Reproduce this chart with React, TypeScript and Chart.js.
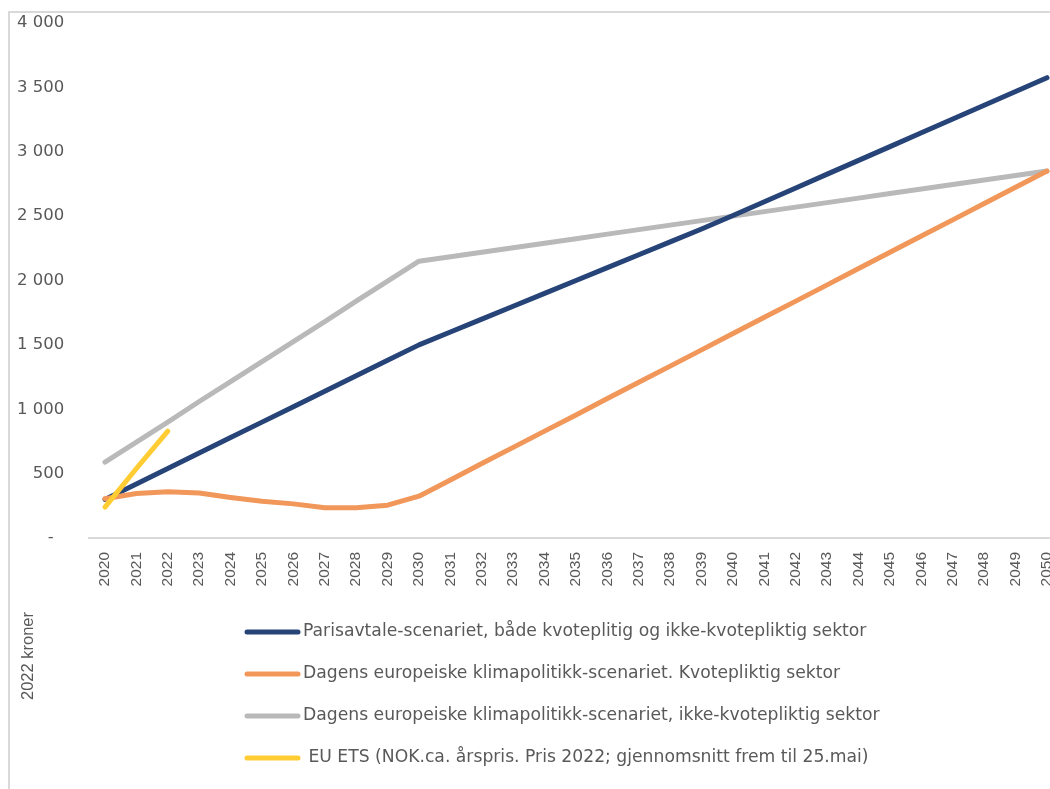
import React, { useEffect, useRef } from "react";
import { Chart, registerables } from "chart.js";

Chart.register(...registerables);

const years = [
  "2020", "2021", "2022", "2023", "2024", "2025", "2026", "2027", "2028", "2029", "2030",
  "2031", "2032", "2033", "2034", "2035", "2036", "2037", "2038", "2039", "2040",
  "2041", "2042", "2043", "2044", "2045", "2046", "2047", "2048", "2049", "2050",
];

const parisScenario = [
  300, 420, 540, 660, 780, 900, 1020, 1140, 1260, 1380, 1500,
  1600, 1700, 1800, 1900, 2000, 2100, 2200, 2300, 2400, 2505,
  2612, 2719, 2826, 2933, 3040, 3147, 3254, 3361, 3468, 3575,
];

const euroQuotaSector = [
  305, 345, 360, 350, 315, 285, 265, 235, 235, 255, 325,
  451, 578, 704, 830, 956, 1083, 1209, 1335, 1461, 1588,
  1714, 1840, 1966, 2093, 2219, 2345, 2471, 2598, 2724, 2850,
];

const euroNonQuotaSector = [
  590, 745, 900, 1060, 1215, 1370, 1525, 1680, 1840, 1995, 2150,
  2185, 2220, 2255, 2290, 2325, 2360, 2395, 2430, 2465, 2500,
  2535, 2570, 2605, 2640, 2675, 2710, 2745, 2780, 2815, 2850,
];

const euEts = [240, 540, 830];

const seriesLabels = [
  "Parisavtale-scenariet, både kvoteplitig og ikke-kvotepliktig sektor",
  "Dagens europeiske klimapolitikk-scenariet. Kvotepliktig sektor",
  "Dagens europeiske klimapolitikk-scenariet, ikke-kvotepliktig sektor",
  " EU ETS (NOK.ca. årspris. Pris 2022; gjennomsnitt frem til 25.mai)",
];

const yTickLabels = ["-  ", "500", "1 000", "1 500", "2 000", "2 500", "3 000", "3 500", "4 000"];
const yAxisTitle = "2022 kroner";

const seriesColors = ["#264478", "#F1975A", "#B9B9B9", "#FFCD33"];
const textColor = "#595959";

const legendPlugin = {
  id: "customLegendAndTitle",
  afterDraw(chart: any) {
    const ctx = chart.ctx as CanvasRenderingContext2D;
    ctx.save();
    chart.data.datasets.forEach((ds: any, i: number) => {
      const y = 632 + i * 42;
      ctx.strokeStyle = ds.borderColor;
      ctx.lineWidth = 5;
      ctx.lineCap = "round";
      ctx.beginPath();
      ctx.moveTo(247, y);
      ctx.lineTo(298, y);
      ctx.stroke();
      ctx.fillStyle = textColor;
      ctx.font = "17.2px 'DejaVu Sans'";
      ctx.textBaseline = "middle";
      ctx.textAlign = "left";
      ctx.fillText(ds.label, 303, y);
    });
    ctx.translate(28, 656);
    ctx.rotate(-Math.PI / 2);
    ctx.textAlign = "center";
    ctx.textBaseline = "middle";
    ctx.font = "16.5px 'Liberation Sans'";
    ctx.fillStyle = textColor;
    ctx.fillText(yAxisTitle, 0, 0);
    ctx.restore();
  },
};

export default function App() {
  const canvasRef = useRef<HTMLCanvasElement | null>(null);

  useEffect(() => {
    if (!canvasRef.current) return;
    const seriesData = [parisScenario, euroQuotaSector, euroNonQuotaSector, euEts];
    const orders = [3, 2, 4, 0];
    const chart = new Chart(canvasRef.current, {
      type: "line",
      data: {
        labels: years,
        datasets: seriesData.map((d, i) => ({
          label: seriesLabels[i],
          data: d,
          borderColor: seriesColors[i],
          backgroundColor: seriesColors[i],
          borderWidth: 5,
          pointRadius: 0,
          tension: 0,
          borderCapStyle: "round" as const,
          borderJoinStyle: "round" as const,
          order: orders[i],
        })),
      },
      options: {
        responsive: false,
        animation: false,
        devicePixelRatio: 1,
        layout: { padding: { left: 0, top: 23, right: 7.3, bottom: 0 } },
        plugins: {
          legend: { display: false },
          tooltip: { enabled: false },
          title: { display: false },
        },
        scales: {
          x: {
            offset: true,
            grid: { display: false, drawTicks: false },
            border: { display: true, color: "#D9D9D9", width: 2 },
            ticks: {
              color: textColor,
              font: { family: "'Liberation Sans'", size: 15.5 },
              minRotation: 90,
              maxRotation: 90,
              autoSkip: false,
              padding: 14,
            },
            afterFit: (scale: any) => {
              scale.height = 251;
              scale.paddingLeft = 0;
              scale.paddingRight = 0;
            },
          },
          y: {
            min: 0,
            max: 4000,
            grid: { display: false, drawTicks: false },
            border: { display: false },
            ticks: {
              stepSize: 500,
              color: textColor,
              font: { family: "'DejaVu Sans'", size: 16.5 },
              padding: 25,
              callback: (_v: any, index: number) => yTickLabels[index],
            },
            afterFit: (scale: any) => {
              scale.width = 89.3;
              scale.paddingTop = 0;
              scale.paddingBottom = 0;
            },
          },
        },
      },
      plugins: [legendPlugin],
    });
    return () => chart.destroy();
  }, []);

  return (
    <div
      style={{
        position: "fixed",
        left: 0,
        top: 0,
        width: 1050,
        height: 789,
        overflow: "hidden",
        background: "#ffffff",
      }}
    >
      <div
        style={{
          position: "absolute",
          left: 8,
          top: 11,
          width: 2000,
          height: 2000,
          borderLeft: "2px solid #D9D9D9",
          borderTop: "2px solid #D9D9D9",
        }}
      />
      <canvas
        ref={canvasRef}
        width={1070}
        height={789}
        style={{ position: "absolute", left: 0, top: 0 }}
      />
    </div>
  );
}
